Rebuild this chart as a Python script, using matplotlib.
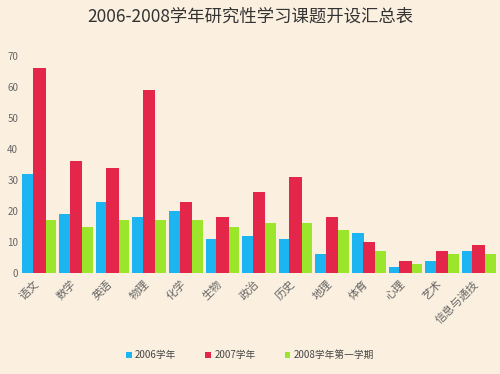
import matplotlib
matplotlib.use('Agg')
import matplotlib.pyplot as plt
import numpy as np

plt.rcParams['font.family'] = ['Noto Sans CJK SC', 'DejaVu Sans']

subjects = ['语文', '数学', '英语', '物理', '化学', '生物', '政治',
            '历史', '地理', '体育', '心理', '艺术', '信息与通技']
y2006 = [32, 19, 23, 18, 20, 11, 12, 11, 6, 13, 2, 4, 7]
y2007 = [66, 36, 34, 59, 23, 18, 26, 31, 18, 10, 4, 7, 9]
y2008 = [17, 15, 17, 17, 17, 15, 16, 16, 14, 7, 3, 6, 6]
labels = ['2006学年', '2007学年', '2008学年第一学期']
colors = ['#1db4f2', '#e5264b', '#9be52b']

bg = '#fbf0e0'
fig = plt.figure(figsize=(5, 3.74), dpi=100, facecolor=bg)
ax = fig.add_axes([0.042, 0.27, 0.952, 0.58], facecolor=bg)

x = np.arange(len(subjects))
w = 0.34
for k, (vals, c, lab) in enumerate(zip([y2006, y2007, y2008], colors, labels)):
    ax.bar(x + (k - 1) * 0.29, vals, w, color=c, label=lab,
           zorder=2 + (k == 2) + 2 * (k == 1))

ax.set_xlim(-0.5, 12.5)
ax.set_ylim(0, 70)
ax.set_yticks(range(0, 71, 10))
ax.tick_params(axis='y', length=0, labelsize=7, colors='#666666', pad=2)
ax.set_xticks(x - 0.15)
ax.set_xticklabels(subjects, rotation=45, ha='right', rotation_mode='anchor',
                   fontsize=8, color='#666666')
ax.tick_params(axis='x', length=0, pad=4)
for s in ax.spines.values():
    s.set_visible(False)

fig.text(0.5, 0.955, '2006-2008学年研究性学习课题开设汇总表', ha='center', va='center',
         fontsize=12.5, color='#333333')

fig.legend(loc='center', bbox_to_anchor=(0.5, 0.05), ncol=3, frameon=False,
           fontsize=7, handlelength=0.6, handleheight=0.6, columnspacing=3,
           handletextpad=0.3, labelcolor='#444444')

fig.savefig('out.png', dpi=100, facecolor=bg)
